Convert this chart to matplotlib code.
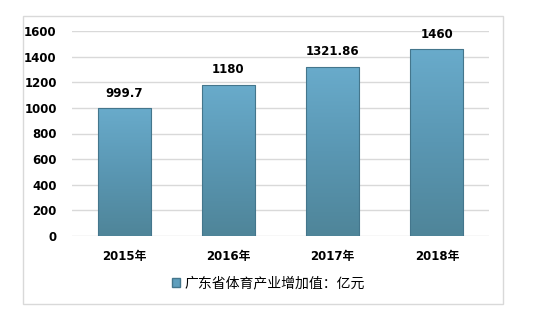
import matplotlib.pyplot as plt
import numpy as np
from matplotlib.colors import LinearSegmentedColormap
from matplotlib.patches import Rectangle

plt.rcParams['font.family'] = ['DejaVu Sans', 'Noto Sans CJK SC']

years = ['2015年', '2016年', '2017年', '2018年']
values = [999.7, 1180, 1321.86, 1460]
labels = ['999.7', '1180', '1321.86', '1460']
series_name = '广东省体育产业增加值：亿元'

W, H = 537, 312
fig = plt.figure(figsize=(W / 100, H / 100), dpi=100)

# outer chart frame
fig.patches.append(Rectangle((23 / W, 1 - 304 / H), 480 / W, 288 / H,
                             transform=fig.transFigure, fill=False,
                             edgecolor='#d9d9d9', linewidth=1))

ax = fig.add_axes([72 / W, 1 - 236 / H, 417 / W, 205 / H])
x = np.arange(len(years))
bars = ax.bar(x, values, width=0.51, color='#5f9fbd', edgecolor='#44768c',
              linewidth=0.8, zorder=3)

cmap = LinearSegmentedColormap.from_list('bar', ['#4f8599', '#5a97b3', '#69abcb'])
grad = np.linspace(0, 1, 100).reshape(-1, 1)
for b in bars:
    x0, y0 = b.get_x(), b.get_y()
    im = ax.imshow(grad, cmap=cmap, origin='lower', aspect='auto',
                   extent=[x0, x0 + b.get_width(), y0, y0 + b.get_height()],
                   zorder=3)
    im.set_clip_path(b)
    b.set_facecolor('none')
    b.set_zorder(4)

for xi, v, lab in zip(x, values, labels):
    ax.annotate(lab, (xi, v), xytext=(0, 6), textcoords='offset points',
                ha='center', va='bottom', fontsize=8.5, fontweight='bold')

ax.set_xlim(-0.5, len(years) - 0.5)
ax.set_ylim(0, 1600)
ax.set_yticks(np.arange(0, 1601, 200))
ax.set_xticks(x)
ax.set_xticklabels(years, fontsize=8.5, fontweight='bold')
ax.tick_params(axis='y', labelsize=8.5, length=0, pad=11)
ax.tick_params(axis='x', length=0, pad=10)
for t in ax.get_yticklabels():
    t.set_fontweight('bold')
ax.grid(axis='y', color='#d9d9d9', linewidth=1, zorder=0)
for s in ax.spines.values():
    s.set_visible(False)

leg = fig.legend([Rectangle((0, 0), 1, 1, facecolor='#5f9fbd', edgecolor='#44768c')],
                 [series_name], loc='center', bbox_to_anchor=(0.5, 1 - 283 / H),
                 frameon=False, fontsize=10, handlelength=0.6, handleheight=0.6,
                 handletextpad=0.3, prop={'family': ['Noto Sans CJK SC'], 'size': 10})

fig.savefig('out.png', dpi=100)
